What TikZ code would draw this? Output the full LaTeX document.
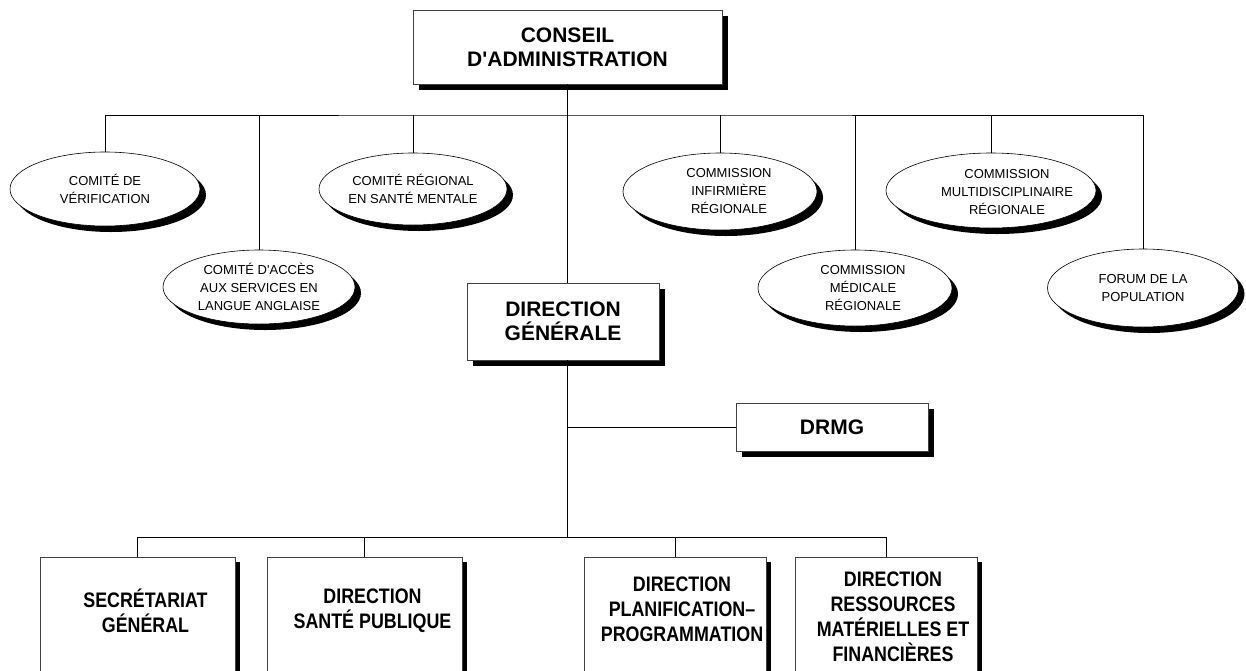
\documentclass[tikz,border=0pt]{standalone}
\usepackage{fontspec}
\setmainfont{Liberation Sans}
\newfontfamily\narrowbold[FakeStretch=0.85]{Liberation Sans Bold}
\usetikzlibrary{shapes.geometric,shadows}
\begin{document}
\begin{tikzpicture}[x=1pt,y=-1pt,
  shad/.style={drop shadow={shadow xshift=6pt, shadow yshift=-6pt, fill=black, opacity=1, draw=none}},
  box/.style={rectangle, draw=black!75, line width=0.8pt, fill=white, inner sep=0pt, shad,
    align=center, font=\fontsize{21}{24}\selectfont\bfseries},
  lowbox/.style={rectangle, draw=black!75, line width=0.8pt, fill=white, inner sep=0pt,
    drop shadow={shadow xshift=5pt, shadow yshift=-5pt, fill=black, opacity=1, draw=none},
    minimum height=140pt},
  bl/.style={align=center, font=\fontsize{21}{25}\selectfont\narrowbold, inner sep=0pt},
  ell/.style={ellipse, draw=black, line width=0.6pt, fill=white, inner sep=0pt, shad,
    align=center, font=\fontsize{13}{18}\selectfont},
  el/.style={align=center, font=\fontsize{13}{18}\selectfont, inner sep=0pt},
  conn/.style={line width=0.9pt, black}]
\useasboundingbox (0,0) rectangle (1246,670);
\clip (0,0) rectangle (1246,670);
\fill[white] (0,0) rectangle (1246,670);

% top
\node[box, minimum width=309pt, minimum height=74pt] (top) at (567.5,47) {CONSEIL\\D\textquotesingle ADMINISTRATION};

% ellipses
\node[ell, minimum width=190pt, minimum height=74pt] (ver) at (105,189) {COMITÉ DE\\VÉRIFICATION};
\node[ell, minimum width=192pt, minimum height=74pt] (acc) at (259,287) {COMITÉ D\textquotesingle ACCÈS\\AUX SERVICES EN\\LANGUE ANGLAISE};
\node[ell, minimum width=188pt, minimum height=72pt] (reg) at (413,189) {COMITÉ RÉGIONAL\\EN SANTÉ MENTALE};
\node[ell, minimum width=194pt, minimum height=77pt,
  label={[el, xshift=9pt]center:{COMMISSION\\INFIRMIÈRE\\RÉGIONALE}}] (inf) at (720,191.5) {};
\node[ell, minimum width=194pt, minimum height=76pt,
  label={[el, xshift=8pt]center:{COMMISSION\\MÉDICALE\\RÉGIONALE}}] (med) at (855,288) {};
\node[ell, minimum width=210pt, minimum height=75pt,
  label={[el, xshift=16pt, yshift=-2pt]center:{COMMISSION\\MULTIDISCIPLINAIRE\\RÉGIONALE}}] (mul) at (991,190.5) {};
\node[ell, minimum width=191pt, minimum height=78pt] (for) at (1143,288) {FORUM DE LA\\POPULATION};

% direction generale & DRMG
\node[box, minimum width=192pt, minimum height=77pt] (dg) at (563,321.5) {DIRECTION\\GÉNÉRALE};
\node[box, minimum width=192pt, minimum height=48pt] (drmg) at (832,427) {DRMG};

% bottom boxes
\node[lowbox, minimum width=195pt, label={[bl, xshift=8pt, yshift=16pt]center:{SECRÉTARIAT\\GÉNÉRAL}}] (sec) at (137.5,627) {};
\node[lowbox, minimum width=195pt, label={[bl, xshift=8pt, yshift=16pt]center:{DIRECTION\\SANTÉ PUBLIQUE}}] (sp) at (364.5,627) {};
\node[lowbox, minimum width=182pt, label={[bl, xshift=7pt, yshift=18pt]center:{DIRECTION\\PLANIFICATION–\\PROGRAMMATION}}] (pp) at (675,627) {};
\node[lowbox, minimum width=182pt, label={[bl, xshift=7pt, yshift=10pt]center:{DIRECTION\\RESSOURCES\\MATÉRIELLES ET\\FINANCIÈRES}}] (res) at (886,627) {};

% connectors
\coordinate (bus) at (567,115);
\coordinate (bus2) at (567,537);
\draw[conn] (top.south -| bus) -- (bus |- dg.north);
\draw[conn] (ver.north) |- (bus) -| (for.north);
\draw[conn] (acc.north) -- (acc.north |- bus);
\draw[conn] (reg.north) -- (reg.north |- bus);
\draw[conn] (inf.north) -- (inf.north |- bus);
\draw[conn] (med.north) -- (med.north |- bus);
\draw[conn] (mul.north) -- (mul.north |- bus);
\draw[conn] (bus |- dg.south) -- (bus2);
\draw[conn] (bus |- drmg.west) -- (drmg.west);
\draw[conn] (sec.north) |- (bus2) -| (res.north);
\draw[conn] (sp.north) -- (sp.north |- bus2);
\draw[conn] (pp.north) -- (pp.north |- bus2);
\end{tikzpicture}
\end{document}
